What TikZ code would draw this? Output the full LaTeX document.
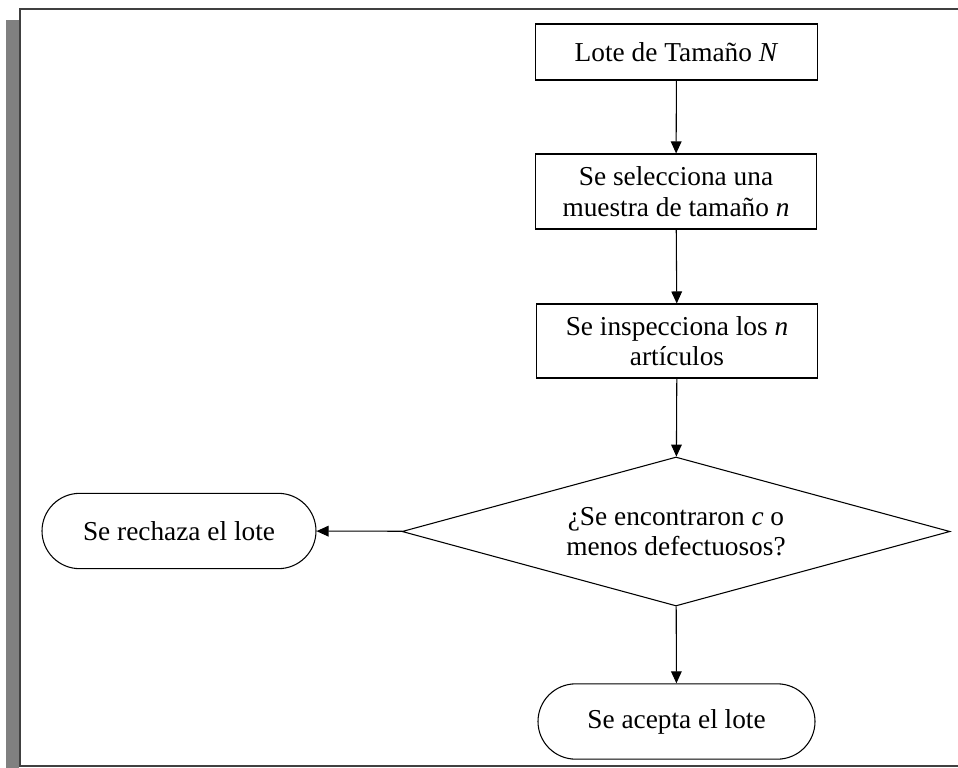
\documentclass[tikz,border=0pt]{standalone}
\usepackage{fontspec}
\setmainfont{Liberation Serif}
\usetikzlibrary{shapes.geometric,shapes.misc,arrows.meta}
\definecolor{marco}{RGB}{64,64,64}
\definecolor{sombra}{RGB}{128,128,128}
\begin{document}
\begin{tikzpicture}[x=0.75pt, y=-0.75pt, >={Triangle[length=9pt,width=8pt]},
    font=\fontsize{20.5}{23}\selectfont,
    caja/.style={draw, line width=0.8pt, inner sep=0pt, align=center, minimum width=211pt},
    terminal/.style={draw, rounded rectangle, line width=0.8pt, inner sep=0pt, align=center, minimum height=56.5pt},
    flecha/.style={->, line width=0.8pt}]
    \useasboundingbox (0,0) rectangle (958,768);
    % sombra y marco
    \fill[sombra] (6,20) rectangle (19,768);
    \draw[marco, line width=1.5pt] (958,9) -- (20,9) -- (20,766) -- (958,766);
    % pasos
    \node[caja, minimum height=42pt] (lote) at (676.5,52) {Lote de Tamaño \textit{N}};
    \node[caja, minimum height=56.25pt] (muestra) at (676,191.5) {Se selecciona una\\muestra de tamaño \textit{n}};
    \node[caja, minimum height=55.5pt] (inspeccion) at (677,341) {Se inspecciona los \textit{n}\\artículos};
    % decision
    \node[draw, diamond, aspect=3.68, line width=0.8pt, inner sep=0pt, align=center,
          minimum width=411pt, minimum height=111.75pt] (decision) at (676,531.5)
          {¿Se encontraron \textit{c} o\\menos defectuosos?};
    % resultados
    \node[terminal, minimum width=205.5pt] (rechazo) at (179,531) {Se rechaza el lote};
    \node[terminal, minimum width=207.75pt] (acepta) at (676.5,721.5) {Se acepta el lote};
    % flechas
    \draw[flecha] (lote) -- (muestra);
    \draw[flecha] (muestra) -- (inspeccion);
    \draw[flecha] (inspeccion) -- (decision);
    \draw[flecha] (decision) -- (rechazo);
    \draw[flecha] (decision) -- (acepta);
\end{tikzpicture}
\end{document}
